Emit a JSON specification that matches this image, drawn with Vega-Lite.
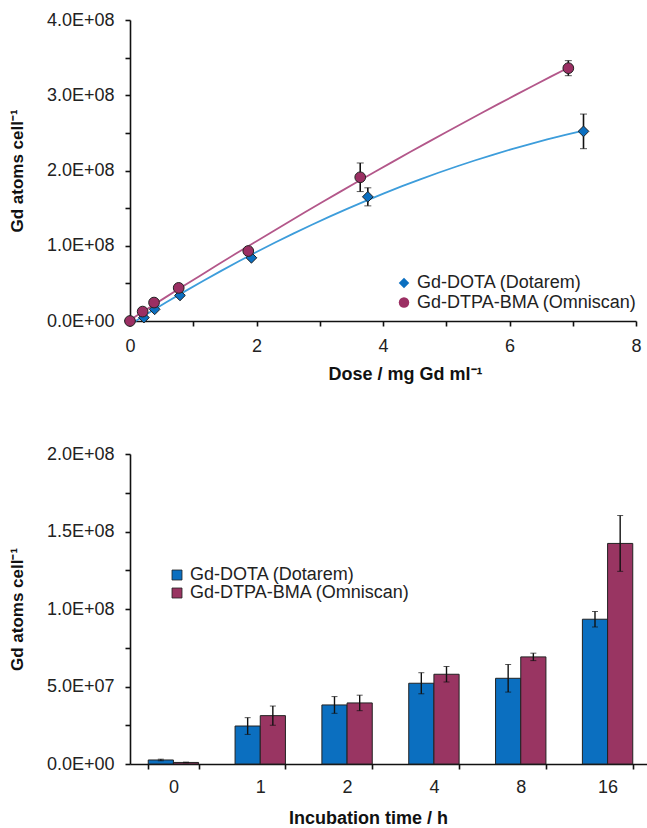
{
  "$schema": "https://vega.github.io/schema/vega-lite/v6.json",
  "padding": {"left": 8, "top": 11, "right": 0, "bottom": 0},
  "background": "white",
  "config": {
    "view": {"stroke": null},
    "font": "Liberation Sans",
    "scale": {"continuousPadding": 0},
    "axis": {
      "grid": false,
      "labelFlush": false,
      "domainColor": "#111",
      "domainWidth": 1.6,
      "tickColor": "#111",
      "tickWidth": 1.6,
      "tickSize": 5,
      "labelFont": "Liberation Sans",
      "labelFontSize": 18,
      "labelColor": "#222",
      "titleFont": "Liberation Sans",
      "titleFontSize": 17,
      "titleFontWeight": "bold",
      "titleColor": "#111"
    },
    "legend": {
      "labelFont": "Liberation Sans",
      "labelFontSize": 18,
      "labelColor": "#222",
      "labelLimit": 0,
      "padding": 0,
      "rowPadding": 0,
      "labelOffset": 4,
      "symbolStrokeColor": "#222",
      "symbolStrokeWidth": 0.8,
      "symbolSize": 110,
      "title": null
    }
  },
  "datasets": {
    "dose": [
      {"agent": "Gd-DOTA (Dotarem)", "dose": 0, "atoms": 0, "err": 0},
      {"agent": "Gd-DOTA (Dotarem)", "dose": 0.22, "atoms": 4500000, "err": 1000000},
      {"agent": "Gd-DOTA (Dotarem)", "dose": 0.39, "atoms": 15500000, "err": 1000000},
      {"agent": "Gd-DOTA (Dotarem)", "dose": 0.79, "atoms": 34000000, "err": 1500000},
      {"agent": "Gd-DOTA (Dotarem)", "dose": 1.92, "atoms": 84000000, "err": 2000000},
      {"agent": "Gd-DOTA (Dotarem)", "dose": 3.76, "atoms": 165000000, "err": 12000000},
      {"agent": "Gd-DOTA (Dotarem)", "dose": 7.17, "atoms": 252000000, "err": 23000000},
      {"agent": "Gd-DTPA-BMA (Omniscan)", "dose": 0, "atoms": 0, "err": 0},
      {"agent": "Gd-DTPA-BMA (Omniscan)", "dose": 0.2, "atoms": 12500000, "err": 1000000},
      {"agent": "Gd-DTPA-BMA (Omniscan)", "dose": 0.38, "atoms": 24500000, "err": 1000000},
      {"agent": "Gd-DTPA-BMA (Omniscan)", "dose": 0.77, "atoms": 44000000, "err": 2000000},
      {"agent": "Gd-DTPA-BMA (Omniscan)", "dose": 1.87, "atoms": 93000000, "err": 2000000},
      {"agent": "Gd-DTPA-BMA (Omniscan)", "dose": 3.64, "atoms": 191000000, "err": 19000000},
      {"agent": "Gd-DTPA-BMA (Omniscan)", "dose": 6.93, "atoms": 336000000, "err": 10000000}
    ],
    "time": [
      {"agent": "Gd-DOTA (Dotarem)", "hour": "0", "atoms": 2600000, "err": 500000},
      {"agent": "Gd-DOTA (Dotarem)", "hour": "1", "atoms": 24500000, "err": 5400000},
      {"agent": "Gd-DOTA (Dotarem)", "hour": "2", "atoms": 38100000, "err": 5400000},
      {"agent": "Gd-DOTA (Dotarem)", "hour": "4", "atoms": 52100000, "err": 6800000},
      {"agent": "Gd-DOTA (Dotarem)", "hour": "8", "atoms": 55300000, "err": 8900000},
      {"agent": "Gd-DOTA (Dotarem)", "hour": "16", "atoms": 93400000, "err": 5000000},
      {"agent": "Gd-DTPA-BMA (Omniscan)", "hour": "0", "atoms": 1000000, "err": 200000},
      {"agent": "Gd-DTPA-BMA (Omniscan)", "hour": "1", "atoms": 31200000, "err": 6200000},
      {"agent": "Gd-DTPA-BMA (Omniscan)", "hour": "2", "atoms": 39400000, "err": 5000000},
      {"agent": "Gd-DTPA-BMA (Omniscan)", "hour": "4", "atoms": 57900000, "err": 5000000},
      {"agent": "Gd-DTPA-BMA (Omniscan)", "hour": "8", "atoms": 69100000, "err": 2400000},
      {"agent": "Gd-DTPA-BMA (Omniscan)", "hour": "16", "atoms": 142300000, "err": 18000000}
    ]
  },
  "vconcat": [
    {
      "width": 506,
      "height": 301,
      "data": {"name": "dose"},
      "encoding": {
        "x": {
          "field": "dose", "type": "quantitative",
          "scale": {"domain": [0, 8], "nice": false, "zero": true, "padding": 0},
          "axis": {
            "values": [0, 1, 2, 3, 4, 5, 6, 7, 8],
            "labelExpr": "datum.value % 2 === 0 ? format(datum.value, 'd') : ''",
            "labelPadding": 11,
            "title": "Dose / mg Gd ml⁻¹",
            "titleFontSize": 18,
            "titleX": 275,
            "titlePadding": 10
          }
        },
        "y": {
          "field": "atoms", "type": "quantitative",
          "scale": {"domain": [0, 400000000], "nice": false, "padding": 0},
          "axis": {
            "values": [0, 50000000, 100000000, 150000000, 200000000, 250000000, 300000000, 350000000, 400000000],
            "labelExpr": "datum.value % 100000000 === 0 ? replace(format(datum.value, '.1e'), 'e+', 'E+0') : ''",
            "labelPadding": 11,
            "title": "Gd atoms cell⁻¹",
            "titlePadding": 20
          }
        }
      },
      "layer": [
        {
          "transform": [
            {"filter": "datum.agent === 'Gd-DOTA (Dotarem)'"},
            {"regression": "atoms", "on": "dose", "method": "poly", "order": 2}
          ],
          "mark": {"type": "line", "strokeWidth": 1.8, "color": "#3d9ddb"},
          "encoding": {}
        },
        {
          "transform": [
            {"filter": "datum.agent === 'Gd-DTPA-BMA (Omniscan)'"},
            {"regression": "atoms", "on": "dose", "method": "poly", "order": 2}
          ],
          "mark": {"type": "line", "strokeWidth": 1.8, "color": "#b3578a"},
          "encoding": {}
        },
        {
          "mark": {"type": "errorbar", "ticks": {"size": 7, "color": "#111", "strokeWidth": 1.6}, "rule": {"color": "#111", "strokeWidth": 1.6}},
          "encoding": {
            "yError": {"field": "err"},
            "detail": {"field": "agent"}
          }
        },
        {
          "mark": {"type": "point", "filled": true, "size": 115, "opacity": 1, "stroke": "#222", "strokeWidth": 1},
          "encoding": {
            "fill": {
              "field": "agent", "type": "nominal",
              "scale": {"domain": ["Gd-DOTA (Dotarem)", "Gd-DTPA-BMA (Omniscan)"], "range": ["#0b6fc0", "#9b2f63"]},
              "legend": {"orient": "none", "legendX": 265, "legendY": 254, "rowPadding": 1.5}
            },
            "shape": {
              "field": "agent", "type": "nominal",
              "scale": {"domain": ["Gd-DOTA (Dotarem)", "Gd-DTPA-BMA (Omniscan)"], "range": ["diamond", "circle"]},
              "legend": {"orient": "none", "legendX": 265, "legendY": 254, "rowPadding": 1.5}
            }
          }
        }
      ]
    },
    {
      "width": 521,
      "height": 310,
      "data": {"name": "time"},
      "encoding": {
        "x": {
          "field": "hour", "type": "nominal",
          "sort": ["0", "1", "2", "4", "8", "16"],
          "scale": {"paddingInner": 0.42, "paddingOuter": 0.21},
          "axis": {
            "labelAngle": 0,
            "tickBand": "extent",
            "labelPadding": 9,
            "title": "Incubation time / h",
            "titleFontSize": 18,
            "titleX": 238,
            "titlePadding": 13
          }
        },
        "xOffset": {"field": "agent", "type": "nominal", "sort": ["Gd-DOTA (Dotarem)", "Gd-DTPA-BMA (Omniscan)"]},
        "y": {
          "field": "atoms", "type": "quantitative",
          "scale": {"domain": [0, 200000000], "nice": false},
          "axis": {
            "values": [0, 25000000, 50000000, 75000000, 100000000, 125000000, 150000000, 175000000, 200000000],
            "labelExpr": "datum.value % 50000000 === 0 ? replace(format(datum.value, '.1e'), 'e+', 'E+0') : ''",
            "labelPadding": 11,
            "title": "Gd atoms cell⁻¹",
            "titlePadding": 20
          }
        }
      },
      "layer": [
        {
          "mark": {"type": "bar", "stroke": "#222", "strokeWidth": 1},
          "encoding": {
            "color": {
              "field": "agent", "type": "nominal",
              "scale": {"domain": ["Gd-DOTA (Dotarem)", "Gd-DTPA-BMA (Omniscan)"], "range": ["#0b6fc0", "#993562"]},
              "legend": {"orient": "none", "legendX": 38, "legendY": 112, "symbolType": "square", "symbolSize": 100, "labelOffset": 4}
            }
          }
        },
        {
          "mark": {"type": "errorbar", "ticks": {"size": 6, "color": "#111", "strokeWidth": 1.4}, "rule": {"color": "#111", "strokeWidth": 1.4}},
          "encoding": {
            "yError": {"field": "err"}
          }
        }
      ]
    }
  ],
  "spacing": 62,
  "resolve": {"scale": {"color": "independent", "fill": "independent", "shape": "independent"}}
}
